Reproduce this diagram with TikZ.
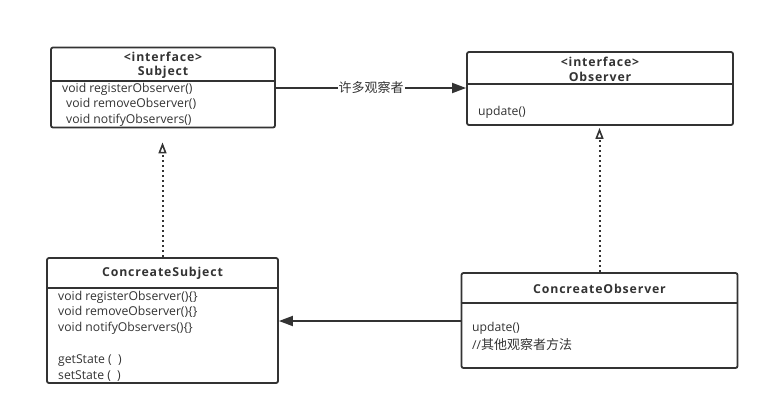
\documentclass[tikz,border=0pt]{standalone}
\usepackage{fontspec}
\setmainfont{Open Sans}
\newfontfamily\cjk{Noto Sans CJK SC}
\usetikzlibrary{arrows, arrows.meta}
\usetikzlibrary{calc}
\definecolor{umlgray}{HTML}{333333}
\tikzset{
  classbox/.style={draw=umlgray, line width=1.8pt, rounded corners=2pt, inner sep=0pt},
  member/.style={anchor=west, inner sep=0pt, text=umlgray, font=\fontsize{12.2}{14}\selectfont},
  classtitle/.style={inner sep=0pt, text=umlgray, font=\fontsize{12.3}{14}\selectfont\bfseries\addfontfeature{LetterSpace=7}},
  divider/.style={draw=umlgray, line width=1.6pt},
  assoc/.style={draw=umlgray, line width=1.8pt, -{Triangle[length=14pt, width=10pt]}},
  realize/.style={draw=umlgray, line width=2pt, dash pattern=on 2pt off 3pt, -{Triangle[open, length=11pt, width=8pt, line width=1.6pt]}}
}
\begin{document}
\begin{tikzpicture}[x=1pt, y=-1pt]
      \useasboundingbox (0,0) rectangle (769,416);

      % class boxes
      \node[classbox, minimum width=224pt, minimum height=80pt] (subject) at (163,87.5) {};
      \node[classbox, minimum width=266pt, minimum height=73pt] (observer) at (600,88.5) {};
      \node[classbox, minimum width=231pt, minimum height=125pt] (csubject) at (162.5,320.5) {};
      \node[classbox, minimum width=276pt, minimum height=95pt] (cobserver) at (599.5,320.5) {};

      \draw[divider] (subject.west |- 0,81) -- (subject.east |- 0,81);
      \draw[divider] (observer.west |- 0,84) -- (observer.east |- 0,84);
      \draw[divider] (csubject.west |- 0,288) -- (csubject.east |- 0,288);
      \draw[divider] (cobserver.west |- 0,303) -- (cobserver.east |- 0,303);

      % Subject
      \node[classtitle] (st1) at (163,57) {<interface>};
      \node[classtitle] (st2) at (163,72) {Subject};
      \node[member] (sm1) at (62,89) {void registerObserver()};
      \node[member] (sm2) at (66,104) {void removeObserver()};
      \node[member] (sm3) at (66,120) {void notifyObservers()};

      % Observer
      \node[classtitle] (ot1) at (600,62) {<interface>};
      \node[classtitle] (ot2) at (600,77) {Observer};
      \node[member] (om1) at (478,112) {update()};

      % ConcreateSubject
      \node[classtitle] (cst) at (162.5,273) {ConcreateSubject};
      \node[member] (csm1) at (58,297) {void registerObserver()\{\}};
      \node[member] (csm2) at (58,312) {void removeObserver()\{\}};
      \node[member] (csm3) at (58,328) {void notifyObservers()\{\}};
      \node[member] (csm4) at (58,361) {getState (\ \ )};
      \node[member] (csm5) at (58,376) {setState (\ \ )};

      % ConcreateObserver
      \node[classtitle] (cot) at (599.5,289) {ConcreateObserver};
      \node[member] (com1) at (472,328) {update()};
      \node[member] (com2) at (472,345) {//{\cjk\fontsize{13}{15}\selectfont 其他观察者方法}};

      % relations
      \draw[assoc] (subject.east |- 0,88) -- (observer.west |- 0,88)
        node[midway, fill=white, inner sep=1pt, text=umlgray, font=\fontsize{13}{15}\selectfont\cjk] (many) {许多观察者};
      \draw[assoc] (cobserver.west |- 0,321) -- (csubject.east |- 0,321);
      \draw[realize, shorten >=14pt] (csubject.north) -- (csubject.north |- subject.south);
      \draw[realize, shorten >=2pt] (cobserver.north) -- (cobserver.north |- observer.south);
\end{tikzpicture}
\end{document}
